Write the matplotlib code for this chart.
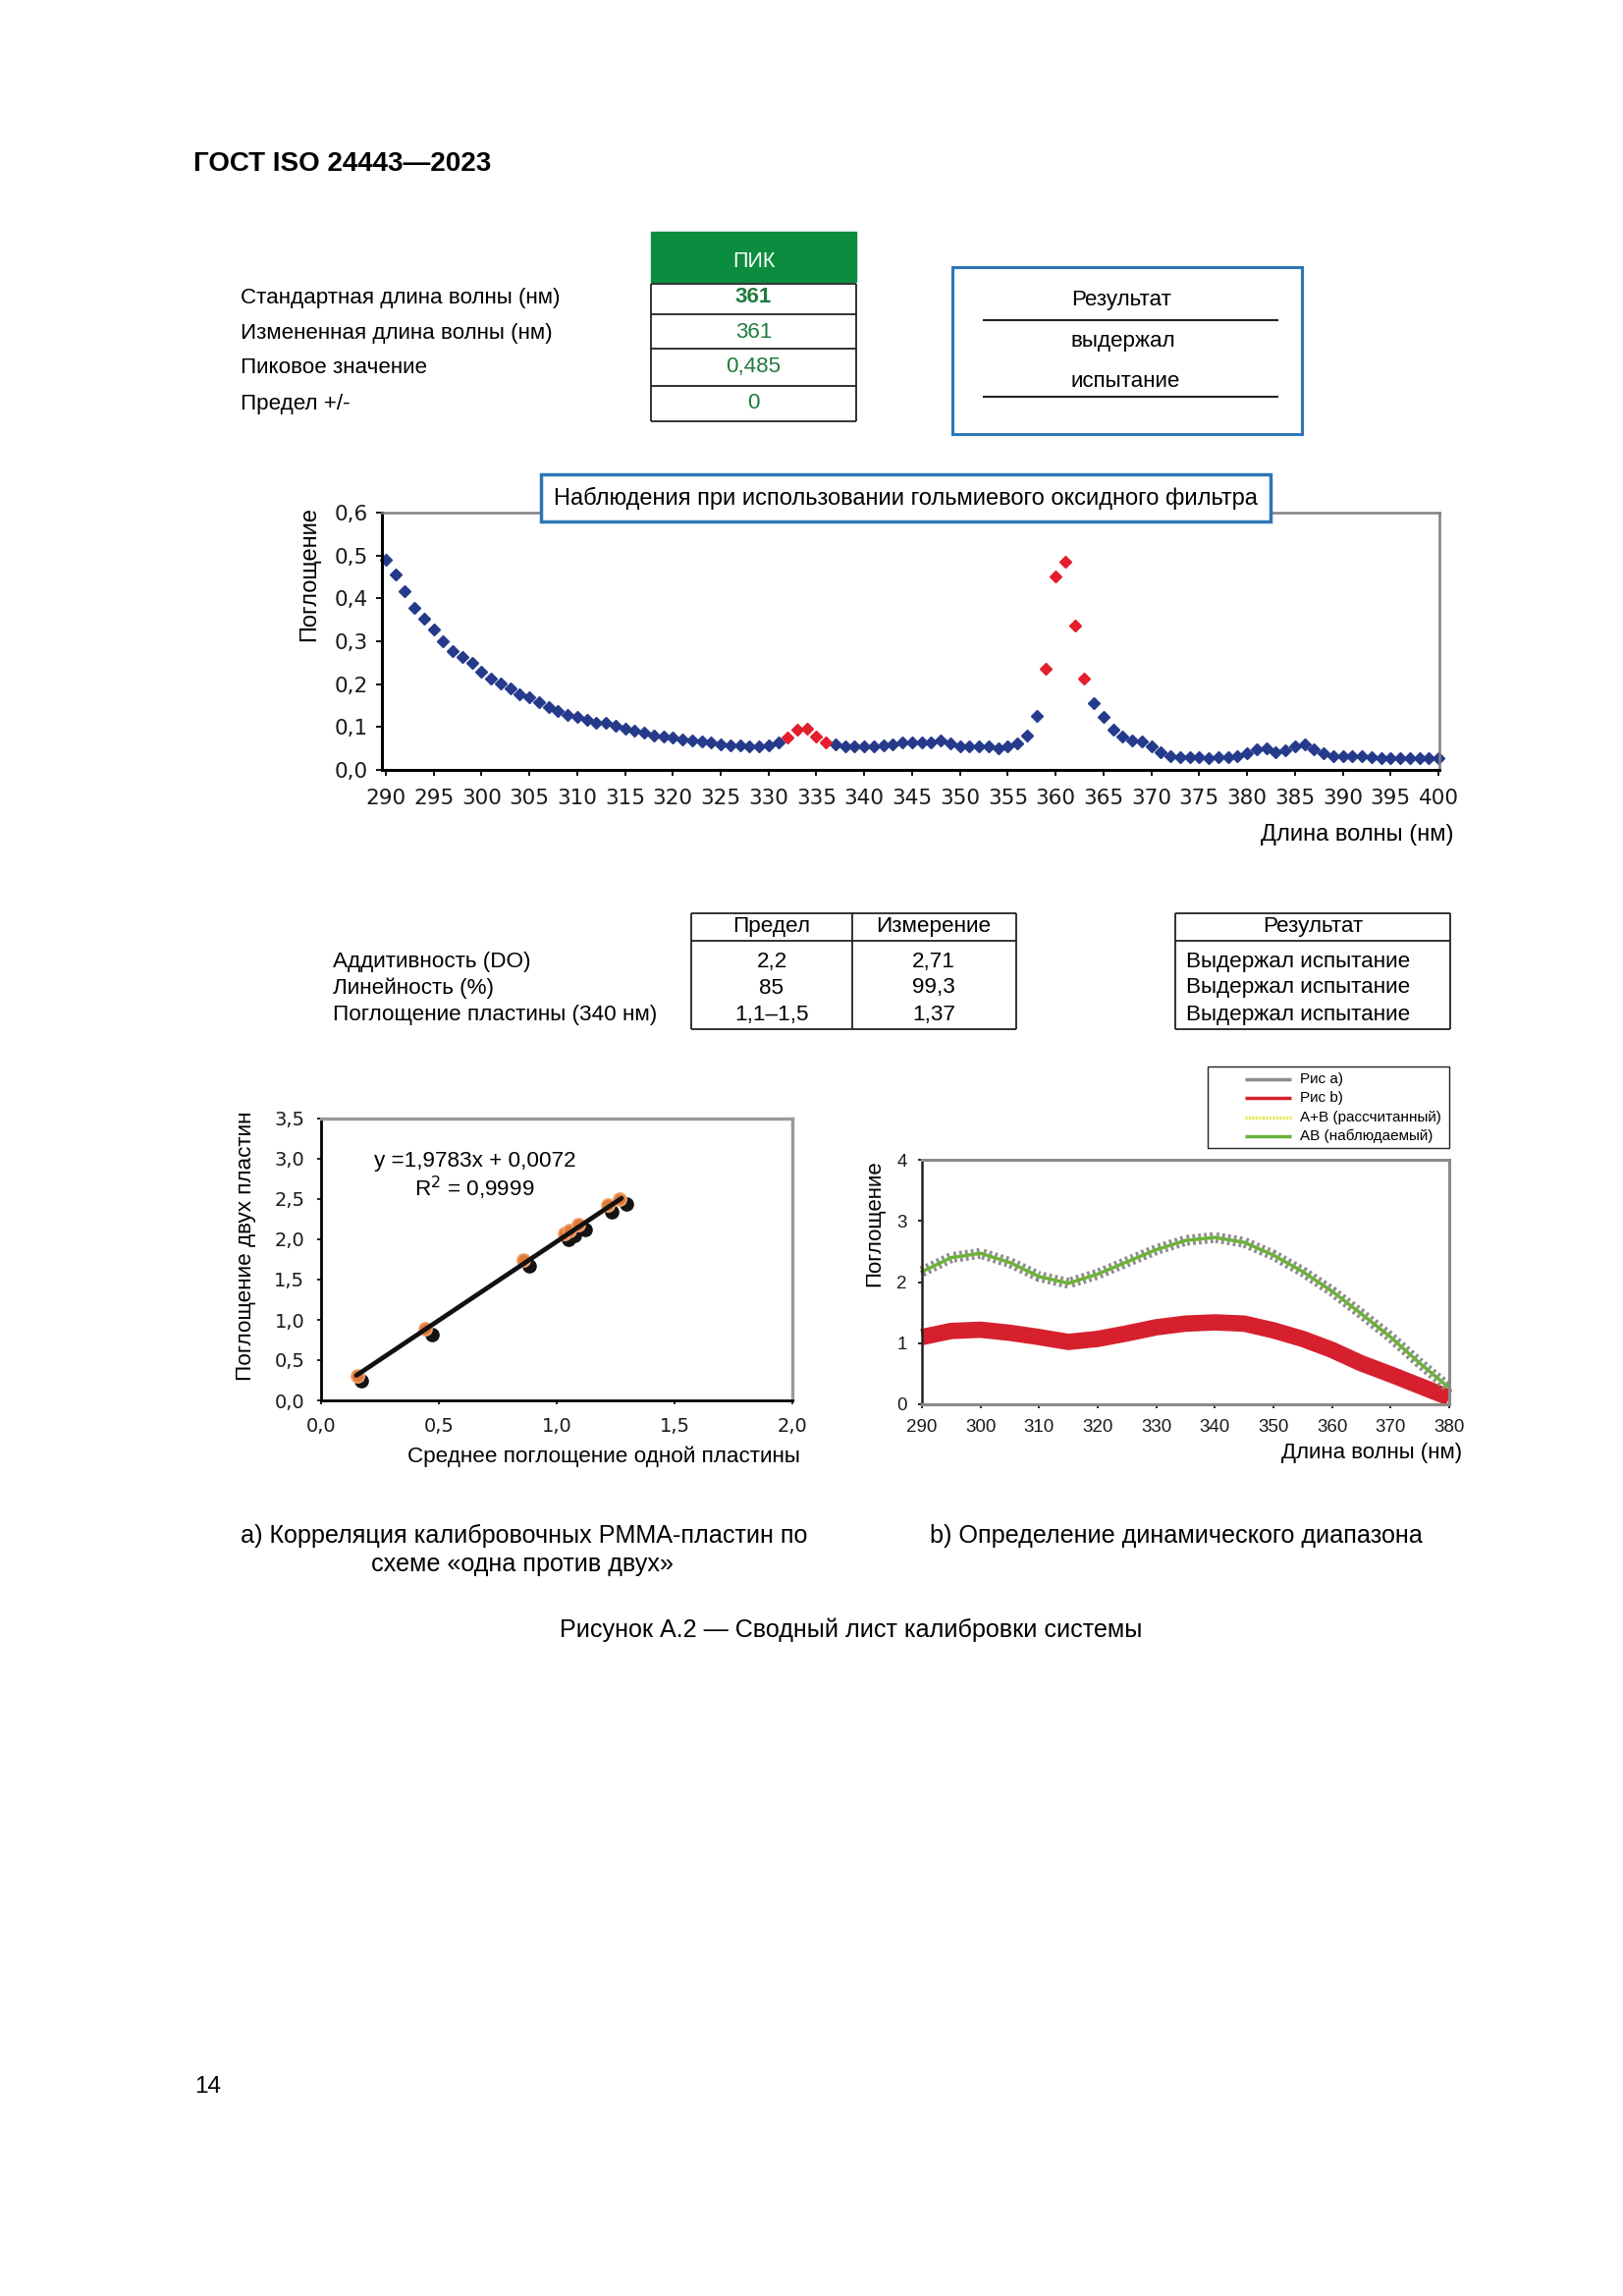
import numpy as np
import matplotlib
matplotlib.use('Agg')
import matplotlib.pyplot as plt
from matplotlib.patches import Rectangle
from matplotlib.ticker import FuncFormatter

plt.rcParams['font.family'] = ['Liberation Sans', 'DejaVu Sans']
plt.rcParams['lines.scale_dashes'] = False

W, H = 1653, 2338

# ---------------- data ----------------
peak_labels = ['Стандартная длина волны (нм)', 'Измененная длина волны (нм)',
               'Пиковое значение', 'Предел +/-']
peak_values = ['361', '361', '0,485', '0']
peak_result = ['Результат', 'выдержал', 'испытание']

# holmium oxide filter, 1 nm steps 290..400
wavelength = np.arange(290, 401)
absorbance = [
    0.491, 0.455, 0.416, 0.379, 0.352, 0.327, 0.300, 0.276, 0.264, 0.249,
    0.229, 0.214, 0.201, 0.190, 0.177, 0.169, 0.158, 0.147, 0.137, 0.129,
    0.123, 0.117, 0.111, 0.109, 0.102, 0.096, 0.091, 0.088, 0.081, 0.078,
    0.075, 0.072, 0.069, 0.067, 0.063, 0.060, 0.057, 0.057, 0.054, 0.054,
    0.057, 0.063, 0.075, 0.094, 0.096, 0.078, 0.065, 0.059, 0.056, 0.056,
    0.056, 0.056, 0.057, 0.060, 0.063, 0.063, 0.063, 0.065, 0.069, 0.061,
    0.054, 0.054, 0.054, 0.054, 0.051, 0.054, 0.062, 0.081, 0.126, 0.235,
    0.452, 0.485, 0.337, 0.214, 0.156, 0.124, 0.094, 0.078, 0.069, 0.066,
    0.054, 0.042, 0.033, 0.030, 0.030, 0.030, 0.027, 0.030, 0.030, 0.033,
    0.040, 0.048, 0.051, 0.042, 0.045, 0.056, 0.059, 0.048, 0.039, 0.033,
    0.033, 0.033, 0.033, 0.030, 0.027, 0.027, 0.027, 0.027, 0.027, 0.027,
    0.027]
peak_points = [332, 333, 334, 335, 336, 359, 360, 361, 362, 363]

check_labels = ['Аддитивность (DO)', 'Линейность (%)', 'Поглощение пластины (340 нм)']
check_limit = ['2,2', '85', '1,1–1,5']
check_measured = ['2,71', '99,3', '1,37']
check_result = ['Выдержал испытание', 'Выдержал испытание', 'Выдержал испытание']

# one plate vs two plates
one_plate_a = [0.153, 0.442, 0.859, 1.035, 1.055, 1.093, 1.217, 1.266]
two_plates_a = [0.306, 0.892, 1.740, 2.074, 2.107, 2.188, 2.425, 2.506]
one_plate_b = [0.170, 0.470, 0.884, 1.052, 1.077, 1.121, 1.233, 1.294]
two_plates_b = [0.240, 0.823, 1.667, 2.005, 2.046, 2.127, 2.343, 2.445]
fit_x = [0.15, 1.275]
fit_y = [0.31, 2.51]

# dynamic range
dyn_wl = [290, 295, 300, 305, 310, 315, 320, 325, 330, 335,
          340, 345, 350, 355, 360, 365, 370, 375, 380]
plate_a = [1.10, 1.20, 1.22, 1.17, 1.10, 1.02, 1.07, 1.16, 1.26, 1.32,
           1.34, 1.32, 1.21, 1.07, 0.89, 0.67, 0.49, 0.30, 0.11]
plate_b = [1.10, 1.20, 1.22, 1.17, 1.10, 1.02, 1.07, 1.16, 1.26, 1.32,
           1.34, 1.32, 1.21, 1.07, 0.89, 0.67, 0.49, 0.30, 0.11]
ab_calc = [2.17, 2.40, 2.47, 2.32, 2.09, 1.98, 2.13, 2.33, 2.53, 2.68,
           2.73, 2.65, 2.44, 2.17, 1.85, 1.48, 1.10, 0.67, 0.27]
ab_obs = [2.17, 2.40, 2.47, 2.32, 2.09, 1.98, 2.13, 2.33, 2.53, 2.68,
          2.73, 2.65, 2.44, 2.17, 1.85, 1.48, 1.10, 0.67, 0.27]
legend_names = ['Рис a)', 'Рис b)', 'A+B (рассчитанный)', 'AB (наблюдаемый)']

# ---------------- figure ----------------
fig = plt.figure(figsize=(W / 100, H / 100), dpi=100)
fig.patch.set_facecolor('white')


def box(l, t, r, b):
    return [l / W, 1 - b / H, (r - l) / W, (b - t) / H]


def comma(fmt):
    return FuncFormatter(lambda v, p: format(v, fmt).replace('.', ','))


# page overlay, pixel coords, y down
ov = fig.add_axes([0, 0, 1, 1], zorder=5)
ov.set_xlim(0, W)
ov.set_ylim(H, 0)
ov.axis('off')


def txt(x, y, s, size=16.1, **kw):
    kw.setdefault('va', 'center')
    ov.text(x, y, s, fontsize=size, **kw)


def seg(x0, y0, x1, y1, color='#222222', lw=1.3, **kw):
    ov.plot([x0, x1], [y0, y1], color=color, lw=lw, solid_capstyle='butt', **kw)


txt(197, 167, 'ГОСТ ISO 24443—2023', size=20, fontweight='bold')

# top table
green = '#1E7B3E'
ov.add_patch(Rectangle((663, 236), 209, 51, color='#0B8C3F'))
txt(767.5, 266, 'ПИК', size=15.5, color='white', ha='center')
row_y = [303, 339, 374, 411]
for y in [289, 320, 355, 393, 429]:
    seg(663, y, 872, y)
seg(663, 289, 663, 429)
seg(872, 289, 872, 429)
for i, (lab, val) in enumerate(zip(peak_labels, peak_values)):
    txt(245, row_y[i], lab)
    txt(767.5, row_y[i], val, color=green, ha='center',
        fontweight='bold' if i == 0 else 'normal')

ov.add_patch(Rectangle((970, 272), 356, 170, fill=False, ec='#2E75B6', lw=2.2))
seg(1001, 326, 1302, 326, lw=1.5)
seg(1001, 404, 1302, 404, lw=1.5)
for y, s in zip([305, 347, 388], peak_result):
    txt(1091, y, s)

# ---------------- holmium spectrum ----------------
ax1 = fig.add_axes(box(389, 522, 1466, 784))
is_peak = np.isin(wavelength, peak_points)
absorbance = np.array(absorbance)
ax1.plot(wavelength[~is_peak], absorbance[~is_peak], ls='none', marker='D', ms=6,
         color='#263A8C', clip_on=False)
ax1.plot(wavelength[is_peak], absorbance[is_peak], ls='none', marker='D', ms=6,
         color='#E31E2D', clip_on=False)
ax1.set_xlim(289.6, 400.1)
ax1.set_ylim(0, 0.6)
ax1.set_xticks(range(290, 401, 5))
ax1.set_yticks(np.arange(0, 0.61, 0.1))
ax1.yaxis.set_major_formatter(comma('.1f'))
ax1.tick_params(direction='out', length=4, width=1.3, labelsize=15.5,
                labelfontfamily='DejaVu Sans', labelcolor='#1a1a1a')
ax1.tick_params(axis='x', pad=10)
ax1.tick_params(axis='y', pad=6)
for s in ['left', 'bottom']:
    ax1.spines[s].set_linewidth(2.2)
    ax1.spines[s].set_color('black')
for s in ['top', 'right']:
    ax1.spines[s].set_linewidth(1.8)
    ax1.spines[s].set_color('#7f7f7f')
ax1.set_ylabel('Поглощение', fontsize=17, va='center')
ax1.yaxis.set_label_coords(-0.0687, 0.763)
ax1.set_xlabel('Длина волны (нм)', fontsize=17, ha='right', va='center')
ax1.xaxis.set_label_coords(1.0139, -0.252)

ov.add_patch(Rectangle((551, 483), 743, 48, fc='white', ec='#2E75B6', lw=2.5))
txt(922, 507, 'Наблюдения при использовании гольмиевого оксидного фильтра', size=17,
    ha='center')

# middle tables
seg(704, 930, 1035, 930)
seg(704, 958, 1035, 958)
seg(704, 1048, 1035, 1048)
for x in [704, 868, 1035]:
    seg(x, 930, x, 1048)
seg(1197, 930, 1477, 930)
seg(1197, 958, 1477, 958)
seg(1197, 1048, 1477, 1048)
for x in [1197, 1477]:
    seg(x, 930, x, 1048)
txt(786, 944, 'Предел', size=16.2, ha='center')
txt(951, 944, 'Измерение', size=16.2, ha='center')
txt(1337, 944, 'Результат', size=16.2, ha='center')
for y, lab, lim, meas, res in zip([979, 1006, 1033], check_labels, check_limit,
                                  check_measured, check_result):
    txt(339, y, lab, size=16.2)
    txt(786, y, lim, size=16.2, ha='center')
    txt(951, y, meas, size=16.2, ha='center')
    txt(1208, y, res, size=16.2)

# ---------------- one vs two plates ----------------
ax2 = fig.add_axes(box(327, 1139, 807, 1426))
ax2.plot(one_plate_b, two_plates_b, ls='none', marker='o', ms=9.5, color='#141414')
ax2.plot(one_plate_a, two_plates_a, ls='none', marker='o', ms=9.5, mfc='#E07A3A',
         mec='#F0A472', mew=1.2)
ax2.plot(fit_x, fit_y, color='#111111', lw=3.4, solid_capstyle='round')
ax2.set_xlim(0, 2)
ax2.set_ylim(0, 3.5)
ax2.set_xticks(np.arange(0, 2.01, 0.5))
ax2.set_yticks(np.arange(0, 3.51, 0.5))
ax2.xaxis.set_major_formatter(comma('.1f'))
ax2.yaxis.set_major_formatter(comma('.1f'))
ax2.tick_params(direction='out', length=3, width=1.2, labelsize=14,
                labelfontfamily='DejaVu Sans', labelcolor='#1a1a1a', pad=9)
for s in ['left', 'bottom']:
    ax2.spines[s].set_linewidth(2.0)
    ax2.spines[s].set_color('black')
for s in ['top', 'right']:
    ax2.spines[s].set_linewidth(2.4)
    ax2.spines[s].set_color('#9a9a9a')
ax2.text(0.112, 0.848, 'y =1,9783x + 0,0072', transform=ax2.transAxes, fontsize=16.2,
         va='center')
ax2.text(0.325, 0.752, 'R$^2$ = 0,9999', transform=ax2.transAxes, fontsize=16.2,
         ha='center', va='center')
ax2.set_ylabel('Поглощение двух пластин', fontsize=16.2, va='center')
ax2.yaxis.set_label_coords(-0.160, 0.547)
ax2.set_xlabel('Среднее поглощение одной пластины', fontsize=16.2, ha='right', va='center')
ax2.xaxis.set_label_coords(1.0167, -0.199)

# ---------------- dynamic range ----------------
ax3 = fig.add_axes(box(939, 1181, 1476, 1430))
ax3.plot(dyn_wl, plate_a, color='#8c8c8c', lw=2)
ax3.plot(dyn_wl, plate_b, color='#D6202E', lw=12, solid_capstyle='butt',
         solid_joinstyle='round', clip_on=False)
ax3.plot(dyn_wl, ab_calc, color='#8c8c8c', lw=8, ls=(0, (2.0, 2.3)), clip_on=False)
ax3.plot(dyn_wl, ab_calc, color='#E9E64C', lw=2.6, ls=(0, (1.5, 1.5)), clip_on=False)
ax3.plot(dyn_wl, ab_obs, color='#6AB23C', lw=2.4, clip_on=False)
ax3.set_xlim(290, 380)
ax3.set_ylim(0, 4)
ax3.set_xticks(range(290, 381, 10))
ax3.set_yticks(range(0, 5))
ax3.tick_params(direction='out', length=3, width=1.2, labelsize=13.5,
                labelcolor='#1a1a1a', pad=8)
ax3.spines['left'].set_color('#222222')
ax3.spines['left'].set_linewidth(1.8)
for s in ['top', 'right', 'bottom']:
    ax3.spines[s].set_linewidth(2.2)
    ax3.spines[s].set_color('#8a8a8a')
ax3.set_ylabel('Поглощение', fontsize=16, va='center')
ax3.yaxis.set_label_coords(-0.0894, 0.739)
ax3.set_xlabel('Длина волны (нм)', fontsize=16, ha='right', va='center')
ax3.xaxis.set_label_coords(1.024, -0.197)

# legend of the dynamic range chart
ov.add_patch(Rectangle((1230, 1086), 246, 83, fill=False, ec='#222222', lw=1.0))
key_style = [dict(color='#8c8c8c', lw=2.5),
             dict(color='#D6202E', lw=2.5),
             dict(color='#E9E64C', lw=2.5, ls=(0, (1.5, 1.0))),
             dict(color='#6AB23C', lw=2.5)]
for y, name, st in zip([1099, 1118, 1138, 1157], legend_names, key_style):
    ov.plot([1268, 1315], [y, y], solid_capstyle='butt', **st)
    txt(1324, y, name, size=11)

# captions
txt(534, 1564, 'a) Корреляция калибровочных PMMA-пластин по', size=18.1, ha='center')
txt(532, 1593, 'схеме «одна против двух»', size=18.1, ha='center')
txt(1198, 1564, 'b) Определение динамического диапазона', size=18.1, ha='center')
txt(867, 1660, 'Рисунок А.2 — Сводный лист калибровки системы', size=18.1, ha='center')
txt(198, 2125, '14', size=17.5)

ov.set_xlim(0, W)
ov.set_ylim(H, 0)

fig.savefig('out.png', dpi=100, facecolor='white')
